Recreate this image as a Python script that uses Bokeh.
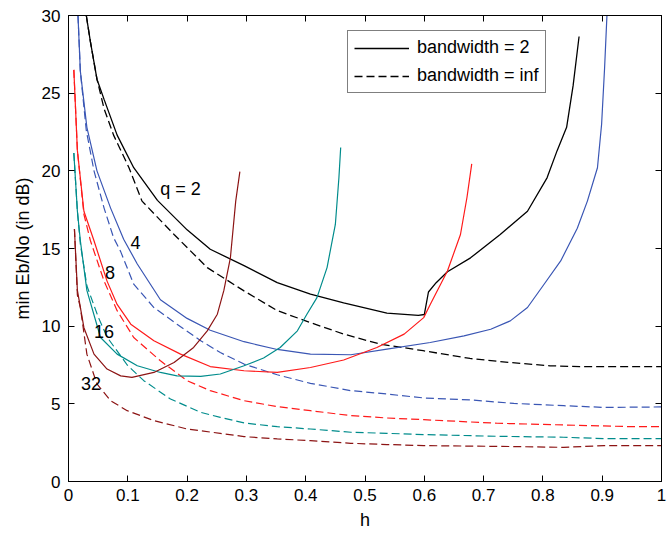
from bokeh.plotting import figure
from bokeh.models import (LinearAxis, FixedTicker, CustomJSTickFormatter, Legend,
                          LegendItem, Range1d, Label, CustomLabelingPolicy)
from bokeh.embed import file_html
from bokeh.resources import INLINE

# ---------------- data ----------------
# q = 2
h_q2_bw2 = [0.030, 0.037, 0.048, 0.060, 0.082, 0.110, 0.150, 0.200, 0.239, 0.296, 0.352,
            0.408, 0.464, 0.537, 0.590, 0.600, 0.607, 0.620, 0.639, 0.678, 0.728, 0.774,
            0.807, 0.824, 0.840, 0.851, 0.861]
v_q2_bw2 = [30.0, 28.3, 25.9, 24.6, 22.3, 20.2, 18.1, 16.2, 14.95, 13.9, 12.8,
            12.06, 11.5, 10.84, 10.7, 10.75, 12.2, 12.8, 13.5, 14.4, 15.9, 17.4,
            19.55, 21.3, 22.8, 25.5, 28.65]
h_q2_inf = [0.030, 0.037, 0.048, 0.060, 0.076, 0.102, 0.124, 0.178, 0.234, 0.296, 0.352,
            0.408, 0.464, 0.525, 0.598, 0.677, 0.744, 0.812, 0.862, 0.930, 1.0]
v_q2_inf = [30.0, 28.3, 25.9, 24.0, 22.3, 20.2, 18.05, 15.9, 13.77, 12.27, 11.0,
            10.23, 9.49, 8.85, 8.42, 7.92, 7.66, 7.45, 7.39, 7.39, 7.39]
# q = 4
h_q4_bw2 = [0.016, 0.020, 0.031, 0.048, 0.071, 0.093, 0.116, 0.155, 0.200, 0.239, 0.296,
            0.352, 0.408, 0.476, 0.537, 0.610, 0.667, 0.712, 0.745, 0.774, 0.802, 0.830,
            0.858, 0.875, 0.892, 0.899, 0.904, 0.908]
v_q4_bw2 = [30.0, 26.4, 22.8, 20.0, 17.6, 15.6, 14.0, 11.7, 10.5, 9.74, 9.0,
            8.5, 8.2, 8.16, 8.52, 8.95, 9.38, 9.8, 10.34, 11.2, 12.7, 14.2,
            16.3, 18.05, 20.2, 23.0, 26.6, 30.0]
h_q4_inf = [0.016, 0.020, 0.030, 0.043, 0.060, 0.076, 0.088, 0.110, 0.144, 0.183, 0.223,
            0.256, 0.296, 0.352, 0.408, 0.476, 0.537, 0.599, 0.678, 0.751, 0.835, 0.903, 1.0]
v_q4_inf = [30.0, 26.4, 22.6, 20.0, 17.6, 15.7, 14.8, 12.7, 11.2, 10.13, 9.06,
            8.3, 7.56, 6.87, 6.32, 5.85, 5.63, 5.38, 5.25, 5.03, 4.88, 4.77, 4.8]
# q = 8
h_q8_bw2 = [0.009, 0.015, 0.026, 0.043, 0.065, 0.082, 0.105, 0.144, 0.189, 0.239, 0.296,
            0.352, 0.408, 0.464, 0.520, 0.566, 0.599, 0.610, 0.639, 0.661, 0.672, 0.680]
v_q8_bw2 = [26.5, 21.3, 17.4, 15.5, 12.9, 11.4, 10.13, 9.06, 8.2, 7.4, 7.13,
            7.02, 7.34, 7.82, 8.63, 9.49, 10.55, 11.4, 13.55, 15.9, 18.3, 20.45]
h_q8_inf = [0.009, 0.015, 0.026, 0.037, 0.060, 0.082, 0.110, 0.155, 0.200, 0.239, 0.296,
            0.352, 0.408, 0.476, 0.537, 0.599, 0.723, 0.835, 0.948, 1.0]
v_q8_inf = [26.5, 21.3, 17.2, 15.5, 12.9, 11.0, 9.27, 7.77, 6.49, 5.85, 5.2,
            4.82, 4.56, 4.24, 4.09, 3.98, 3.75, 3.64, 3.53, 3.53]
# q = 16
h_q16_bw2 = [0.009, 0.015, 0.020, 0.031, 0.054, 0.082, 0.116, 0.155, 0.183, 0.223, 0.256,
             0.296, 0.329, 0.357, 0.386, 0.402, 0.419, 0.436, 0.450, 0.456, 0.459]
v_q16_bw2 = [21.15, 17.4, 15.5, 12.3, 9.27, 8.2, 7.45, 7.02, 6.8, 6.77, 6.92,
             7.45, 7.95, 8.63, 9.7, 10.77, 11.84, 13.77, 16.55, 19.55, 21.5]
h_q16_inf = [0.009, 0.015, 0.020, 0.031, 0.050, 0.065, 0.099, 0.127, 0.172, 0.223, 0.256,
             0.296, 0.352, 0.408, 0.476, 0.537, 0.599, 0.723, 0.835, 0.903, 1.0]
v_q16_inf = [21.15, 17.4, 15.3, 12.6, 10.6, 9.3, 7.5, 6.49, 5.31, 4.45, 4.13,
             3.77, 3.53, 3.38, 3.17, 3.1, 3.02, 2.91, 2.85, 2.76, 2.76]
# q = 32
h_q32_bw2 = [0.010, 0.015, 0.026, 0.043, 0.065, 0.088, 0.107, 0.144, 0.178, 0.211, 0.234,
             0.251, 0.262, 0.273, 0.282, 0.289]
v_q32_bw2 = [16.25, 12.3, 9.9, 8.2, 7.24, 6.8, 6.7, 7.02, 7.66, 8.63, 9.7,
             10.77, 12.3, 14.4, 18.05, 19.95]
h_q32_inf = [0.010, 0.015, 0.020, 0.031, 0.048, 0.071, 0.099, 0.144, 0.200, 0.256, 0.296,
             0.352, 0.408, 0.476, 0.537, 0.599, 0.751, 0.835, 0.903, 1.0]
v_q32_inf = [16.25, 12.0, 11.2, 8.2, 6.28, 5.2, 4.56, 3.92, 3.38, 3.1, 2.89,
             2.74, 2.63, 2.46, 2.38, 2.31, 2.25, 2.2, 2.31, 2.31]

q_labels = ["q = 2", "4", "8", "16", "32"]
q_label_h = [0.189, 0.113, 0.070, 0.060, 0.038]
q_label_v = [18.82, 15.37, 13.45, 9.65, 6.31]

x_ticks = [0, 0.1, 0.2, 0.3, 0.4, 0.5, 0.6, 0.7, 0.8, 0.9, 1]
y_ticks = [0, 5, 10, 15, 20, 25, 30]
legend_labels = ["bandwidth = 2", "bandwidth = inf"]

# ---------------- styles ----------------
colors = ["#000000", "#3a56b4", "#ff1a1a", "#008c8c", "#8c1414"]
FONT = "Liberation Sans"
DASH = "8 4"

p = figure(width=672, height=536, output_backend="svg", toolbar_location=None,
           x_range=Range1d(0, 1), y_range=Range1d(0, 30),
           min_border_left=68, min_border_right=11, min_border_top=15, min_border_bottom=55,
           x_axis_label="h", y_axis_label="min Eb/No (in dB)")
p.grid.visible = False
p.outline_line_color = "black"
p.outline_line_width = 1
p.background_fill_color = "white"
p.border_fill_color = "white"

series = [
    (h_q2_bw2, v_q2_bw2, h_q2_inf, v_q2_inf),
    (h_q4_bw2, v_q4_bw2, h_q4_inf, v_q4_inf),
    (h_q8_bw2, v_q8_bw2, h_q8_inf, v_q8_inf),
    (h_q16_bw2, v_q16_bw2, h_q16_inf, v_q16_inf),
    (h_q32_bw2, v_q32_bw2, h_q32_inf, v_q32_inf),
]
rs_solid, rs_dash = [], []
for (hs, vs, hd, vd), c in zip(series, colors):
    lw = 1.3 if c == "#000000" else 1.2
    rs_dash.append(p.line(hd, vd, line_color=c, line_width=lw, line_dash=DASH))
    rs_solid.append(p.line(hs, vs, line_color=c, line_width=lw))

for txt, hx, vy in zip(q_labels, q_label_h, q_label_v):
    p.add_layout(Label(x=hx, y=vy, text=txt, text_align="center", text_baseline="middle",
                       text_font=FONT, text_font_size="18px", text_color="black"))

fmt = CustomJSTickFormatter(code="return String(tick);")
no_labels = CustomLabelingPolicy(code="""
    for (const i of indices)
        indices.unset(i)
    return indices
""")

def style_axis(ax, show_labels):
    ax.major_tick_in = 6
    ax.major_tick_out = 0
    ax.minor_tick_in = 0
    ax.minor_tick_out = 0
    ax.axis_line_color = "black"
    ax.axis_line_width = 1
    ax.major_tick_line_color = "black"
    if show_labels:
        ax.major_label_text_font = FONT
        ax.major_label_text_font_size = "17px"
        ax.major_label_text_color = "black"
        ax.major_label_standoff = 7
        ax.axis_label_text_font = FONT
        ax.axis_label_text_font_size = "18px"
        ax.axis_label_text_font_style = "normal"
        ax.axis_label_text_color = "black"
    else:
        ax.major_label_policy = no_labels
        ax.major_label_text_font_size = "0px"
        ax.major_label_standoff = 0

p.xaxis[0].ticker = FixedTicker(ticks=x_ticks)
p.xaxis[0].formatter = fmt
p.yaxis[0].ticker = FixedTicker(ticks=y_ticks)
p.yaxis[0].formatter = fmt
style_axis(p.xaxis[0], True)
style_axis(p.yaxis[0], True)
p.xaxis[0].axis_label_standoff = 6
p.yaxis[0].axis_label_standoff = 6
p.yaxis[0].major_label_standoff = 8

top_ax = LinearAxis(ticker=FixedTicker(ticks=x_ticks), formatter=fmt)
right_ax = LinearAxis(ticker=FixedTicker(ticks=y_ticks), formatter=fmt)
style_axis(top_ax, False)
style_axis(right_ax, False)
p.add_layout(top_ax, "above")
p.add_layout(right_ax, "right")

legend = Legend(items=[LegendItem(label=legend_labels[0], renderers=[rs_solid[0]]),
                       LegendItem(label=legend_labels[1], renderers=[rs_dash[0]])],
                location=(279, 388), orientation="vertical")
legend.label_text_font = FONT
legend.label_text_font_size = "18px"
legend.label_text_color = "black"
legend.glyph_width = 55
legend.glyph_height = 20
legend.label_height = 20
legend.label_standoff = 8
legend.spacing = 7
legend.padding = 6
legend.margin = 0
legend.border_line_color = "black"
legend.border_line_width = 1.5
legend.background_fill_alpha = 1
p.add_layout(legend)

open("out.html", "w").write(file_html(p, INLINE))
